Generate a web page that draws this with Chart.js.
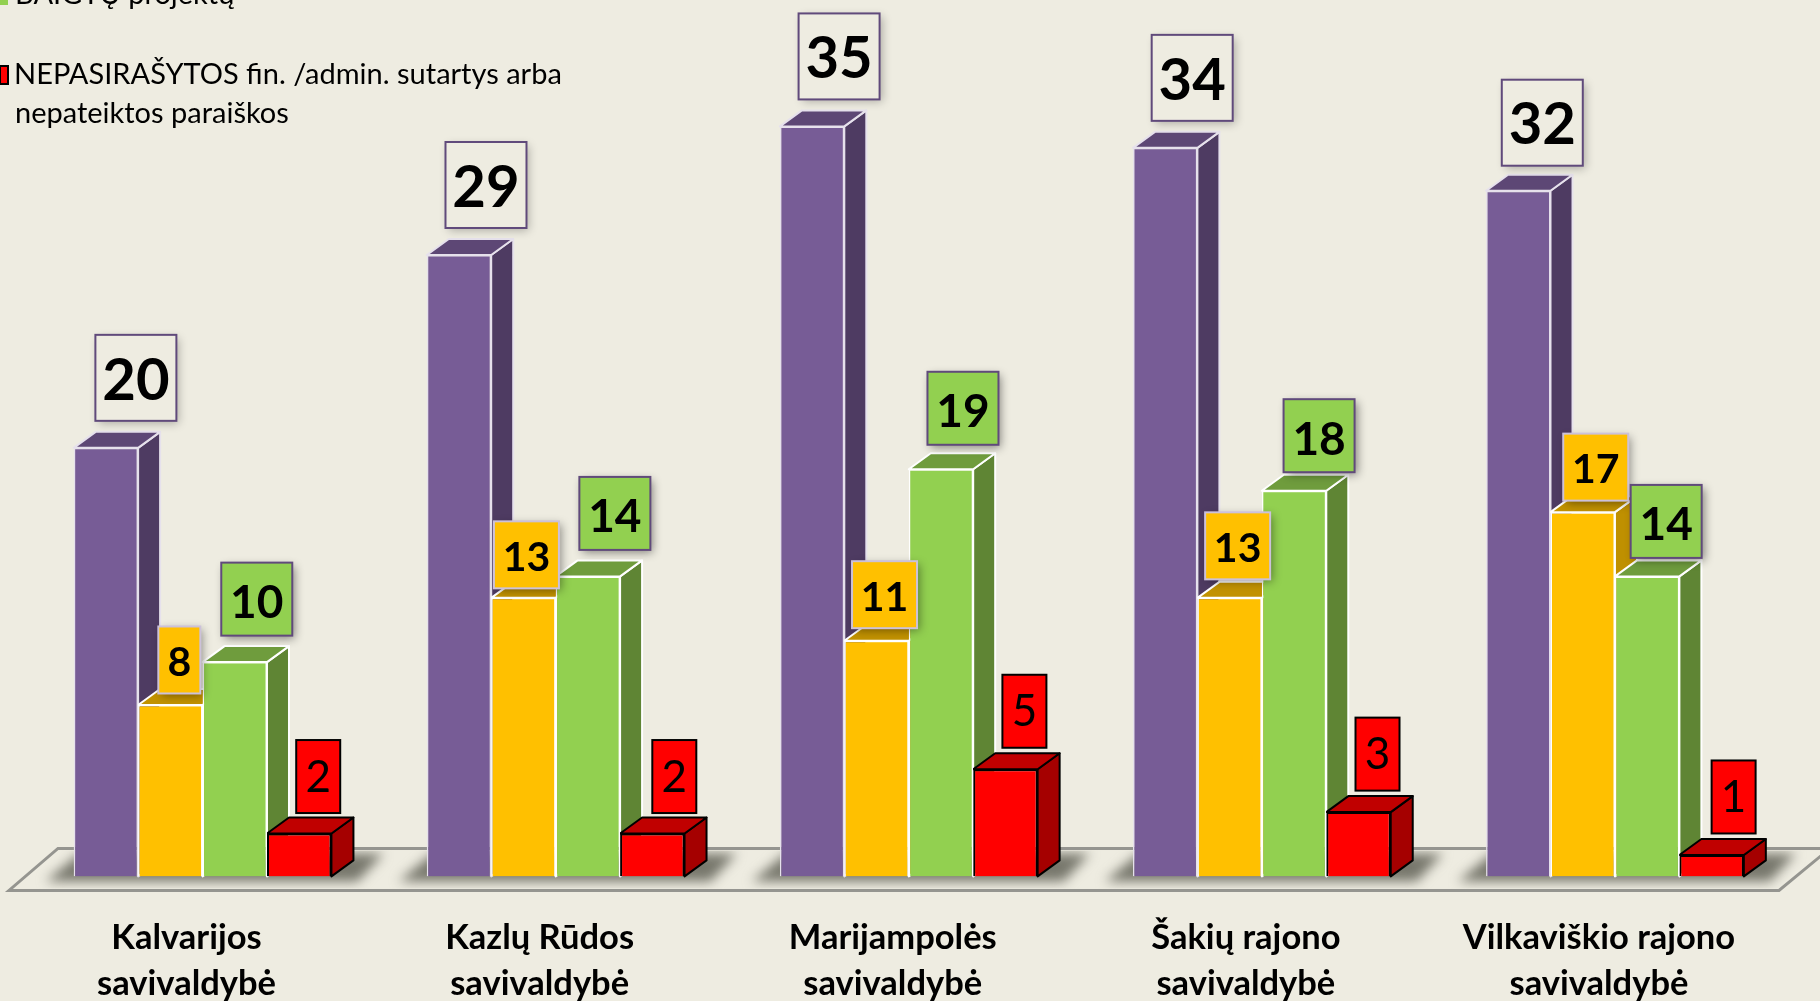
<!DOCTYPE html>
<html>
<head>
<meta charset="utf-8">
<script src="https://cdn.jsdelivr.net/npm/chart.js@4/dist/chart.umd.js"></script>
<style>
html,body{margin:0;padding:0;background:#EEECE1;overflow:hidden}
canvas{display:block}
</style>
</head>
<body>
<canvas id="chart" width="1820" height="1001"></canvas>
<script>
const categories = [
    ['Kalvarijos','savivaldybė'],
    ['Kazlų Rūdos','savivaldybė'],
    ['Marijampolės','savivaldybė'],
    ['Šakių rajono','savivaldybė'],
    ['Vilkaviškio rajono','savivaldybė']
]
const purpleValues = [20,29,35,34,32]
const yellowValues = [8,13,11,13,17]
const greenValues = [10,14,19,18,14]
const redValues = [2,2,5,3,1]

// where each value box sits, relative to the top centre of its bar
const purpleOffsetX = [30,27,27,27,24]
const purpleOffsetY = [-70,-70,-70,-70,-68]
const yellowOffsetX = [9,3,8,8,13]
const yellowOffsetY = [-45,-43,-46,-52,-45]
const greenOffsetX = [22,27,22,25,19]
const greenOffsetY = [-63,-63,-61,-55,-55]
const redOffsetX = [19,22,19,19,22]
const redOffsetY = [-57,-57,-58,-58,-58]

const depthX = 22
const depthY = 16

const styles = [
    {front:'#775C96',side:'#4E3B62',top:'#5D4775',edge:'#E6E1EC',box:'#EEECE1',boxEdge:'#604A7B',shadow:'rgba(0,0,0,0.28)',font:'bold 58px Lato',w:81,h:86,dx:purpleOffsetX,dy:purpleOffsetY,textShift:3},
    {front:'#FFC000',side:'#BF9000',top:'#C29200',edge:'#ffffff',box:'#FFC000',boxEdge:'#CCC1DA',shadow:'rgba(0,0,0,0.4)',font:'bold 41px Lato',w:65,h:67,dx:yellowOffsetX,dy:yellowOffsetY,textShift:3},
    {front:'#92D050',side:'#5F8534',top:'#6F9C3D',edge:'#ffffff',box:'#92D050',boxEdge:'#604A7B',shadow:'rgba(0,0,0,0.45)',font:'bold 46px Lato',w:71,h:73,dx:greenOffsetX,dy:greenOffsetY,textShift:4},
    {front:'#FF0000',side:'#A50000',top:'#C00000',edge:'#000000',box:'#FF0000',boxEdge:'#000000',shadow:null,font:'44px Lato',w:44,h:73,dx:redOffsetX,dy:redOffsetY,textShift:1}
]

const floorPlugin = {
    id:'floor',
    beforeDatasetsDraw(chart){
        const ctx = chart.ctx
        const base = chart.scales.y.getPixelForValue(0)
        const front = base + 14
        const back = base - 28
        const last = styles.length - 1
        ctx.save()
        // soft shadow on the floor around each group of bars
        ctx.save()
        ctx.beginPath()
        ctx.rect(0,back+2,1820,front-back-4)
        ctx.clip()
        ctx.filter = 'blur(6px)'
        ctx.fillStyle = '#77776c'
        chart.data.labels.forEach((label,i)=>{
            const first = chart.getDatasetMeta(0).data[i]
            const end = chart.getDatasetMeta(last).data[i]
            const l = first.x - first.width/2
            const r = end.x + end.width/2 + depthX
            ctx.beginPath()
            ctx.moveTo(l+6,back+5)
            ctx.lineTo(r+30,back+5)
            ctx.lineTo(r+4,base+5)
            ctx.lineTo(l-28,base+5)
            ctx.closePath()
            ctx.fill()
        })
        ctx.restore()
        ctx.strokeStyle = '#959590'
        ctx.lineWidth = 3
        ctx.beginPath()
        ctx.moveTo(1830,back)
        ctx.lineTo(58,back)
        ctx.lineTo(9,front)
        ctx.lineTo(1779,front)
        ctx.lineTo(1830,back)
        ctx.stroke()
        // side and top faces, left to right
        chart.data.labels.forEach((label,i)=>{
            styles.forEach((s,d)=>{
                const bar = chart.getDatasetMeta(d).data[i]
                const l = bar.x - bar.width/2
                const r = bar.x + bar.width/2
                ctx.lineWidth = 2
                ctx.strokeStyle = s.edge
                ctx.lineJoin = 'round'
                ctx.fillStyle = s.side
                ctx.beginPath()
                ctx.moveTo(r,bar.y)
                ctx.lineTo(r+depthX,bar.y-depthY)
                ctx.lineTo(r+depthX,bar.base-depthY)
                ctx.lineTo(r,bar.base)
                ctx.closePath()
                ctx.fill()
                ctx.stroke()
                ctx.fillStyle = s.top
                ctx.beginPath()
                ctx.moveTo(l,bar.y)
                ctx.lineTo(l+depthX,bar.y-depthY)
                ctx.lineTo(r+depthX,bar.y-depthY)
                ctx.lineTo(r,bar.y)
                ctx.closePath()
                ctx.fill()
                ctx.stroke()
            })
        })
        ctx.restore()
    }
}

const boxPlugin = {
    id:'boxes',
    afterDatasetsDraw(chart){
        const ctx = chart.ctx
        ctx.save()
        styles.forEach((s,d)=>{
            chart.getDatasetMeta(d).data.forEach((bar,i)=>{
                const cx = bar.x + s.dx[i]
                const cy = bar.y + s.dy[i]
                let w = s.w
                if(d==1 && yellowValues[i]<10) w = 42
                ctx.save()
                if(s.shadow){
                    ctx.shadowColor = s.shadow
                    ctx.shadowBlur = 9
                    ctx.shadowOffsetX = 3
                    ctx.shadowOffsetY = 3
                }
                ctx.fillStyle = s.box
                ctx.fillRect(cx-w/2,cy-s.h/2,w,s.h)
                ctx.restore()
                ctx.strokeStyle = s.boxEdge
                ctx.lineWidth = 2
                ctx.strokeRect(cx-w/2,cy-s.h/2,w,s.h)
                ctx.fillStyle = '#000000'
                ctx.font = s.font
                ctx.textAlign = 'center'
                ctx.textBaseline = 'middle'
                ctx.fillText(chart.data.datasets[d].data[i],cx,cy+s.textShift)
            })
        })
        // legend, the top of it runs off the picture
        ctx.font = '29px Lato'
        ctx.textAlign = 'left'
        ctx.textBaseline = 'alphabetic'
        ctx.fillStyle = '#000000'
        ctx.fillText('BAIGTŲ projektų',15,4)
        ctx.fillText('NEPASIRAŠYTOS fin. /admin. sutartys arba',14,84)
        ctx.fillText('nepateiktos paraiškos',15,123)
        ctx.fillStyle = '#92D050'
        ctx.fillRect(0,0,8,5)
        ctx.fillStyle = '#FF0000'
        ctx.fillRect(0,66,8,18)
        ctx.strokeStyle = '#000000'
        ctx.lineWidth = 2
        ctx.strokeRect(0,66,8,18)
        ctx.restore()
    }
}

const chart = new Chart(document.getElementById('chart').getContext('2d'),{
    type:'bar',
    data:{
        labels:categories,
        datasets:[
            {label:'',data:purpleValues,backgroundColor:styles[0].front,borderColor:styles[0].edge,borderWidth:1.5},
            {label:'',data:yellowValues,backgroundColor:styles[1].front,borderColor:styles[1].edge,borderWidth:1.5},
            {label:'BAIGTŲ projektų',data:greenValues,backgroundColor:styles[2].front,borderColor:styles[2].edge,borderWidth:1.5},
            {label:'NEPASIRAŠYTOS fin. /admin. sutartys arba nepateiktos paraiškos',data:redValues,backgroundColor:styles[3].front,borderColor:styles[3].edge,borderWidth:2}
        ]
    },
    options:{
        responsive:false,
        animation:false,
        layout:{padding:{left:26,right:28.5,top:0,bottom:0}},
        datasets:{bar:{categoryPercentage:0.73,barPercentage:1}},
        scales:{
            x:{
                afterFit(scale){scale.height = 124.6},
                grid:{display:false,drawTicks:false},
                border:{display:false},
                ticks:{
                    color:'#000000',
                    font:{family:'Lato',size:34.5,weight:'bold',lineHeight:1.345},
                    padding:38,
                    labelOffset:-16,
                    maxRotation:0,
                    autoSkip:false
                }
            },
            y:{display:false,min:0,max:40.9}
        },
        plugins:{
            legend:{display:false},
            tooltip:{enabled:false}
        }
    },
    plugins:[floorPlugin,boxPlugin]
})
</script>
</body>
</html>
